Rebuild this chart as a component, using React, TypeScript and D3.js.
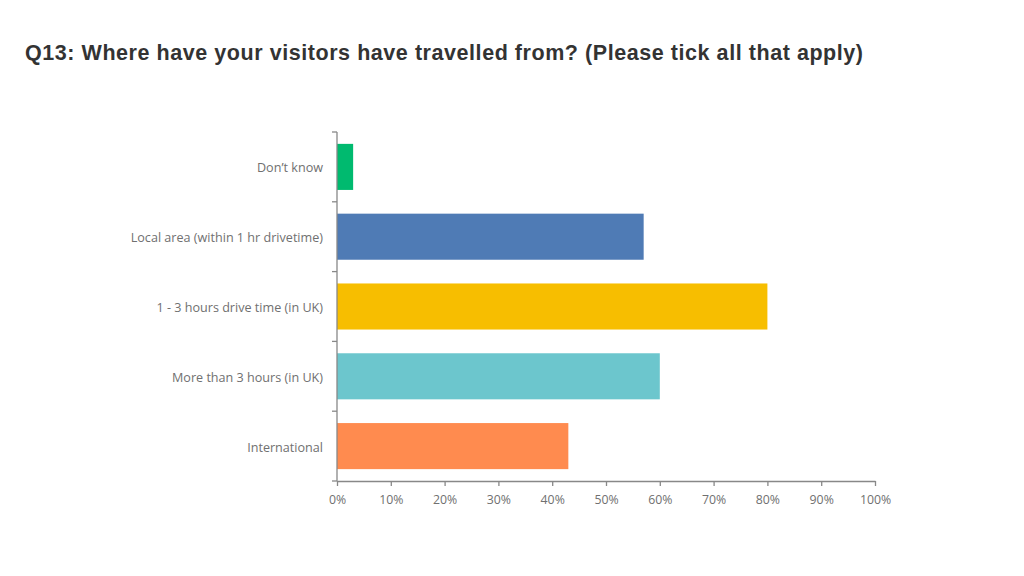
import { useEffect, useRef } from 'react';
import * as d3 from 'd3';

// Q13 responses (% of respondents)
const categories = [
  'Don\u2019t know',
  'Local area (within 1 hr drivetime)',
  '1 - 3 hours drive time (in UK)',
  'More than 3 hours (in UK)',
  'International',
];
const values = [3, 57, 80, 60, 43];
const barColors = ['#00BA6F', '#4F7BB5', '#F7BE00', '#6CC6CD', '#FF8B4F'];
const xTicks = [0, 10, 20, 30, 40, 50, 60, 70, 80, 90, 100];

const title = 'Q13: Where have your visitors have travelled from? (Please tick all that apply)';

export default function App() {
  const svgRef = useRef<SVGSVGElement>(null);

  useEffect(() => {
    if (!svgRef.current) return;
    const width = 1024;
    const height = 576;

    d3.select(svgRef.current).selectAll('*').remove();
    const svg = d3.select(svgRef.current)
      .attr('width', width)
      .attr('height', height);

    svg.append('rect').attr('width', width).attr('height', height).attr('fill', '#fff');

    // Title
    svg.append('text')
      .attr('x', 25)
      .attr('y', 60)
      .attr('textLength', 838)
      .attr('lengthAdjust', 'spacing')
      .style('font-family', '"Liberation Sans", Arial, sans-serif')
      .style('font-size', '21.5px')
      .style('font-weight', 'bold')
      .style('fill', '#333333')
      .text(title);

    const margin = { top: 132, left: 337 };
    const chartWidth = 538;
    const chartHeight = 349;

    const g = svg.append('g')
      .attr('transform', `translate(${margin.left},${margin.top})`);

    const yScale = d3.scaleBand<string>()
      .domain(categories)
      .range([0, chartHeight])
      .paddingInner(0.34)
      .paddingOuter(0.17);

    const xScale = d3.scaleLinear()
      .domain([0, 100])
      .range([0, chartWidth]);

    // Bars
    g.selectAll('.bar')
      .data(categories)
      .enter()
      .append('rect')
      .attr('class', 'bar')
      .attr('x', 0)
      .attr('y', d => yScale(d) || 0)
      .attr('width', (_d, i) => xScale(values[i]))
      .attr('height', yScale.bandwidth())
      .attr('fill', (_d, i) => barColors[i]);

    const axisColor = '#888888';
    const labelFont = '"Open Sans", "Noto Sans", sans-serif';
    const labelColor = '#707070';

    // X axis
    const xAxis = g.append('g')
      .attr('transform', `translate(0,${chartHeight})`)
      .call(d3.axisBottom(xScale).tickValues(xTicks).tickSize(5).tickSizeOuter(0).tickFormat(d => `${d}%`));
    xAxis.select('.domain').attr('stroke', axisColor).attr('stroke-width', 1.3);
    xAxis.selectAll('.tick line').attr('stroke', axisColor).attr('stroke-width', 1.3);
    xAxis.selectAll('.tick text')
      .attr('y', 14)
      .style('font-family', labelFont)
      .style('font-size', '12.3px')
      .style('fill', labelColor);

    // Y axis: line with ticks at band boundaries
    const step = yScale.step();
    const boundaries = d3.range(categories.length + 1).map(i => i * step);
    g.append('line')
      .attr('x1', 0).attr('x2', 0)
      .attr('y1', 0).attr('y2', chartHeight)
      .attr('stroke', axisColor)
      .attr('stroke-width', 1.3);
    g.selectAll('.ytick')
      .data(boundaries)
      .enter()
      .append('line')
      .attr('class', 'ytick')
      .attr('x1', -5).attr('x2', 0)
      .attr('y1', d => d).attr('y2', d => d)
      .attr('stroke', axisColor)
      .attr('stroke-width', 1.3);

    // Category labels
    g.selectAll('.ylabel')
      .data(categories)
      .enter()
      .append('text')
      .attr('class', 'ylabel')
      .attr('x', -14)
      .attr('y', d => (yScale(d) || 0) + yScale.bandwidth() / 2 + 1)
      .attr('dy', '0.35em')
      .attr('text-anchor', 'end')
      .style('font-family', labelFont)
      .style('font-size', '12.6px')
      .style('fill', labelColor)
      .text(d => d);
  }, []);

  return (
    <div style={{ position: 'fixed', left: 0, top: 0 }}>
      <svg ref={svgRef} style={{ display: 'block' }} />
    </div>
  );
}
